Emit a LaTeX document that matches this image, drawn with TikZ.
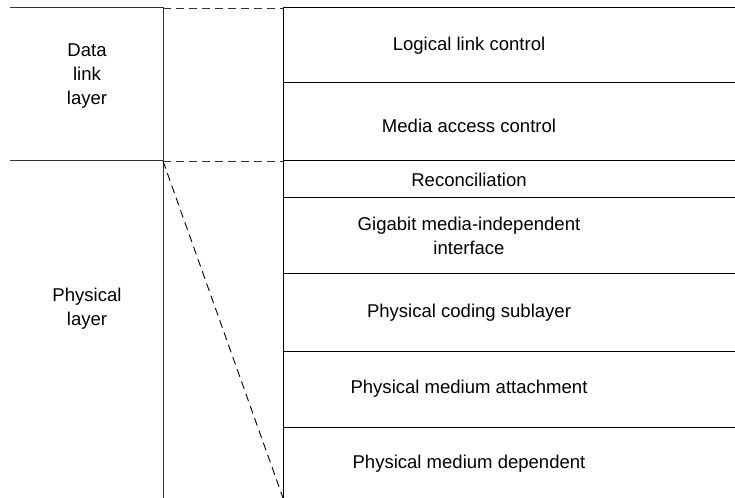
\documentclass[tikz,border=0pt]{standalone}
\usepackage{fontspec}
\setmainfont{Liberation Sans}

\begin{document}
\begin{tikzpicture}[x=1bp,y=-1bp,
		rule/.style={line width=1bp},
		dashrule/.style={line width=0.9bp,dash pattern=on 8bp off 5bp},
		layer/.style={font=\fontsize{18.6}{24}\selectfont,align=center,inner sep=0pt}]
	\useasboundingbox (0,0) rectangle (735,498);
	% frame points
	\coordinate (a1) at (10,8);
	\coordinate (a2) at (163,8);
	\coordinate (a3) at (283,8);
	\coordinate (a4) at (735,8);
	\coordinate (b1) at (10,161);
	\coordinate (b2) at (163,161);
	\coordinate (b3) at (283,161);
	\coordinate (b4) at (735,161);
	\coordinate (c2) at (163,498);
	\coordinate (c3) at (283,498);
	% left column
	\draw[rule,black!80] (a1) -- (a2) -- (c2);
	\draw[rule,black!80] (b1) -- (b2);
	\draw[dashrule,black!80] (a2) -- (a3);
	\draw[dashrule,black!80] (b2) -- (b3);
	\draw[dashrule] (b2) -- (c3);
	% right column
	\draw[rule] (a3) -- (a4);
	\draw[rule] (a3) -- (c3);
	\draw[rule] (b3) -- (b4);
	\foreach \y/\n in {83/r1,198/r2,273/r3,351/r4,427/r5}{
		\draw[rule] (283,\y) coordinate (\n) -- (735,\y);
	}
	% labels
	\node[layer] (dll) at (87,76) {Data\\link\\layer};
	\node[layer] (phy) at (87,309) {Physical\\layer};
	\node[layer] (llc) at (469,46) {Logical link control};
	\node[layer] (mac) at (469,126) {Media access control};
	\node[layer] (rec) at (469,180) {Reconciliation};
	\node[layer] (gmii) at (469,236) {Gigabit media-independent\\interface};
	\node[layer] (pcs) at (469,313) {Physical coding sublayer};
	\node[layer] (pma) at (469,389) {Physical medium attachment};
	\node[layer] (pmd) at (469,464) {Physical medium dependent};
\end{tikzpicture}
\end{document}
